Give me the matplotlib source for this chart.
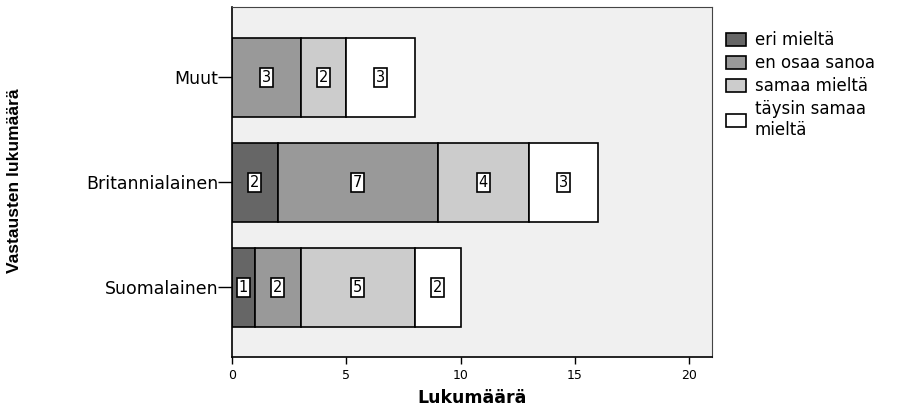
import numpy as np
import matplotlib.pyplot as plt
from matplotlib.patches import Patch

plt.rcParams['font.family'] = ['DejaVu Sans']

categories = ['Suomalainen', 'Britannialainen', 'Muut']
series = ['eri mieltä', 'en osaa sanoa', 'samaa mieltä', 'täysin samaa\nmieltä']
values = [
    [1, 2, 0],   # eri mieltä
    [2, 7, 3],   # en osaa sanoa
    [5, 4, 2],   # samaa mieltä
    [2, 3, 3],   # täysin samaa mieltä
]
colors = ['#666666', '#999999', '#cccccc', '#ffffff']
xticks = [0, 5, 10, 15, 20]

fig = plt.figure(figsize=(9.24, 4.07), dpi=100)
ax = fig.add_axes([0.251, 0.123, 0.5196, 0.860])
ax.set_facecolor('#f0f0f0')

y = np.arange(len(categories))
left = np.zeros(len(categories))
for vals, c in zip(values, colors):
    vals = np.array(vals, dtype=float)
    ax.barh(y, vals, left=left, height=0.752, color=c, edgecolor='black',
            linewidth=1.2, zorder=2)
    for yi, l, v in zip(y, left, vals):
        if v > 0:
            ax.text(l + v / 2, yi, '%d' % v, ha='center', va='center', fontsize=10.5,
                    zorder=3,
                    bbox=dict(boxstyle='square,pad=0.12', facecolor='white',
                              edgecolor='black', linewidth=1.2))
    left += vals

ax.set_xlim(0, 21)
ax.set_ylim(-0.662, 2.671)
ax.set_xticks(xticks)
ax.set_yticks(y)
ax.set_yticklabels(categories, fontsize=12.5)
ax.tick_params(axis='x', labelsize=9, length=5, width=1.0, pad=4)
ax.tick_params(axis='y', length=10, width=1.0, pad=0)

for s in ['left', 'bottom']:
    ax.spines[s].set_linewidth(1.2)
    ax.spines[s].set_color('black')
for s in ['top', 'right']:
    ax.spines[s].set_linewidth(0.8)
    ax.spines[s].set_color('#444444')

ax.set_xlabel('Lukumäärä', fontsize=12.5, fontweight='bold', labelpad=5)
fig.text(0.016, 0.555, 'Vastausten lukumäärä', rotation=90, ha='center', va='center',
         fontsize=12.5, fontweight='bold',
         family=['Liberation Sans Narrow', 'Liberation Sans', 'DejaVu Sans'])

handles = [Patch(facecolor=c, edgecolor='black', linewidth=1.2) for c in colors]
fig.legend(handles, series, loc='upper left', bbox_to_anchor=(0.779, 0.94),
           frameon=False, fontsize=12, handlelength=1.2, handleheight=0.8,
           handletextpad=0.5, labelspacing=0.3, borderaxespad=0)

fig.savefig('out.png', dpi=100)
